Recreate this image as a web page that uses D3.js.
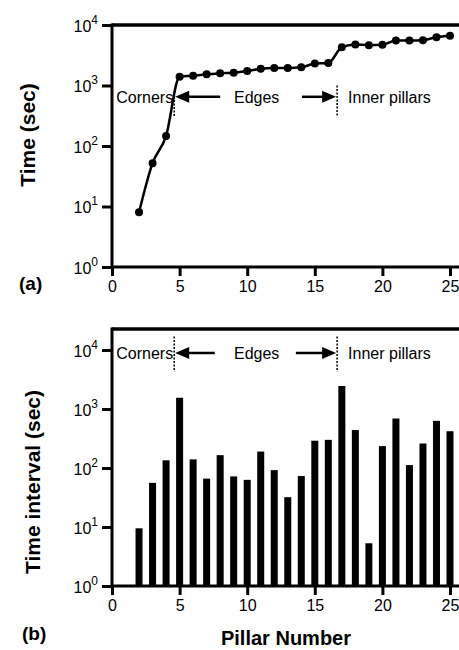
<!DOCTYPE html>
<html>
<head>
<meta charset="utf-8">
<script src="https://cdn.jsdelivr.net/npm/d3@7"></script>
<style>
  body { margin: 0; background: #fff; }
  svg { font-family: "Liberation Sans", Arial, sans-serif; }
  .axis path, .axis line { stroke: #000; stroke-width: 3; }
  .axis text { font-size: 16px; fill: #000; }
</style>
</head>
<body>
<svg id="chart" width="459" height="650"></svg>
<script>
// Pillar numbers and values
const pillars = [2, 3, 4, 5, 6, 7, 8, 9, 10, 11, 12, 13, 14, 15, 16, 17, 18, 19, 20, 21, 22, 23, 24, 25];
const cumTime = [8, 52, 147, 1400, 1450, 1530, 1600, 1630, 1730, 1890, 1940, 1940, 2000, 2300, 2350,
                 4300, 4770, 4630, 4700, 5530, 5530, 5600, 6300, 6650];
const intervals = [9.5, 56, 135, 1550, 140, 66, 165, 72, 63, 190, 92, 32, 73, 290, 300,
                   2450, 440, 5.3, 235, 690, 112, 260, 630, 420];
const xTicks = [0, 5, 10, 15, 20, 25];
const yTicks = [1, 10, 100, 1000, 10000];
const boundaries = [4.6, 16.65];

const svg = d3.select('#chart');

const x = d3.scaleLinear().domain([0, 25]).range([112, 450]);

function supLabels(sel) {
    sel.selectAll('.tick text').each(function (d) {
        const t = d3.select(this);
        t.text(null);
        t.append('tspan').text('10');
        t.append('tspan').attr('dy', -8).attr('font-size', 12)
            .text(Math.round(Math.log10(d)));
    });
}

function drawFrame(y, top, bottom) {
    // x axis
    const xa = svg.append('g').attr('class', 'axis')
        .attr('transform', `translate(0,${bottom})`)
        .call(d3.axisBottom(x).tickValues(xTicks).tickSize(9).tickPadding(5));
    xa.select('.domain').remove();
    // y axis
    const ya = svg.append('g').attr('class', 'axis')
        .attr('transform', 'translate(112,0)')
        .call(d3.axisLeft(y).tickValues(yTicks).tickSize(10).tickPadding(4));
    ya.select('.domain').remove();
    ya.selectAll('.tick text').attr('dy', '0.4em');
    supLabels(ya);

    // frame lines
    svg.append('line').attr('x1', 112).attr('x2', 459).attr('y1', bottom).attr('y2', bottom)
        .attr('stroke', '#000').attr('stroke-width', 3);
    svg.append('line').attr('x1', 112).attr('x2', 459).attr('y1', top).attr('y2', top)
        .attr('stroke', '#000').attr('stroke-width', 3.5);
    svg.append('line').attr('x1', 112).attr('x2', 112).attr('y1', top - 1.5).attr('y2', bottom + 1.5)
        .attr('stroke', '#000').attr('stroke-width', 3);
}

function arrow(x1, x2, yy) {
    const dir = Math.sign(x2 - x1);
    svg.append('line').attr('x1', x1).attr('x2', x2 - dir * 12).attr('y1', yy).attr('y2', yy)
        .attr('stroke', '#000').attr('stroke-width', 2.5);
    svg.append('path')
        .attr('d', `M${x2},${yy} L${x2 - dir * 14},${yy - 6} L${x2 - dir * 14},${yy + 6} Z`)
        .attr('fill', '#000');
}

function annotate(y, textVal, dashTop, dashBottom, firstDashTop, leftTail, rightTail) {
    const ty = y(textVal);
    boundaries.forEach((b, i) => {
        svg.append('line')
            .attr('x1', x(b)).attr('x2', x(b))
            .attr('y1', i === 0 ? y(firstDashTop) : y(dashTop)).attr('y2', y(dashBottom))
            .attr('stroke', '#000').attr('stroke-width', 1.5).attr('stroke-dasharray', '2,1.5');
    });
    const g = svg.append('g').attr('font-size', 16).attr('fill', '#000');
    g.append('text').attr('x', x(boundaries[0]) - 1).attr('y', ty).attr('dy', '0.36em')
        .attr('text-anchor', 'end').text('Corners');
    g.append('text').attr('x', x(10.7)).attr('y', ty).attr('dy', '0.36em')
        .attr('text-anchor', 'middle').text('Edges');
    g.append('text').attr('x', x(boundaries[1]) + 11).attr('y', ty).attr('dy', '0.36em')
        .text('Inner pillars');
    arrow(x(leftTail), x(boundaries[0]) + 1, ty);
    arrow(x(rightTail), x(boundaries[1]) - 1, ty);
}

// ---- panel (a) ----
const ya = d3.scaleLog().domain([1, 10000]).range([267, 25]);
drawFrame(ya, 25, 267);

svg.append('path')
    .datum(pillars.map((p, i) => [p, cumTime[i]]))
    .attr('fill', 'none').attr('stroke', '#000').attr('stroke-width', 2.5)
    .attr('d', d3.line().x(d => x(d[0])).y(d => ya(d[1])).curve(d3.curveMonotoneX));

svg.append('g').selectAll('circle')
    .data(pillars.map((p, i) => [p, cumTime[i]]))
    .join('circle')
    .attr('cx', d => x(d[0])).attr('cy', d => ya(d[1])).attr('r', 4)
    .attr('fill', '#000');

annotate(ya, 650, 1000, 300, 750, 8.0, 14.05);

svg.append('text').attr('transform', 'translate(35,135) rotate(-90)')
    .attr('text-anchor', 'middle').attr('font-size', 21).attr('font-weight', 'bold')
    .text('Time (sec)');
svg.append('text').attr('x', 19).attr('y', 290)
    .attr('font-size', 19).attr('font-weight', 'bold').text('(a)');

// ---- panel (b) ----
const yb = d3.scaleLog().domain([1, 10000]).range([586, 350]);
drawFrame(yb, 329, 586);

svg.append('g').selectAll('rect')
    .data(pillars.map((p, i) => [p, intervals[i]]))
    .join('rect')
    .attr('x', d => x(d[0]) - 3.5).attr('width', 7)
    .attr('y', d => yb(d[1])).attr('height', d => yb(1) - yb(d[1]))
    .attr('fill', '#000');

annotate(yb, 8900, 17000, 4300, 17000, 7.6, 13.6);

svg.append('text').attr('transform', 'translate(40,482) rotate(-90)')
    .attr('text-anchor', 'middle').attr('font-size', 21).attr('font-weight', 'bold')
    .text('Time interval (sec)');
svg.append('text').attr('x', 22).attr('y', 640)
    .attr('font-size', 19).attr('font-weight', 'bold').text('(b)');
svg.append('text').attr('x', 286).attr('y', 645)
    .attr('text-anchor', 'middle').attr('font-size', 20).attr('font-weight', 'bold')
    .text('Pillar Number');
</script>
</body>
</html>
